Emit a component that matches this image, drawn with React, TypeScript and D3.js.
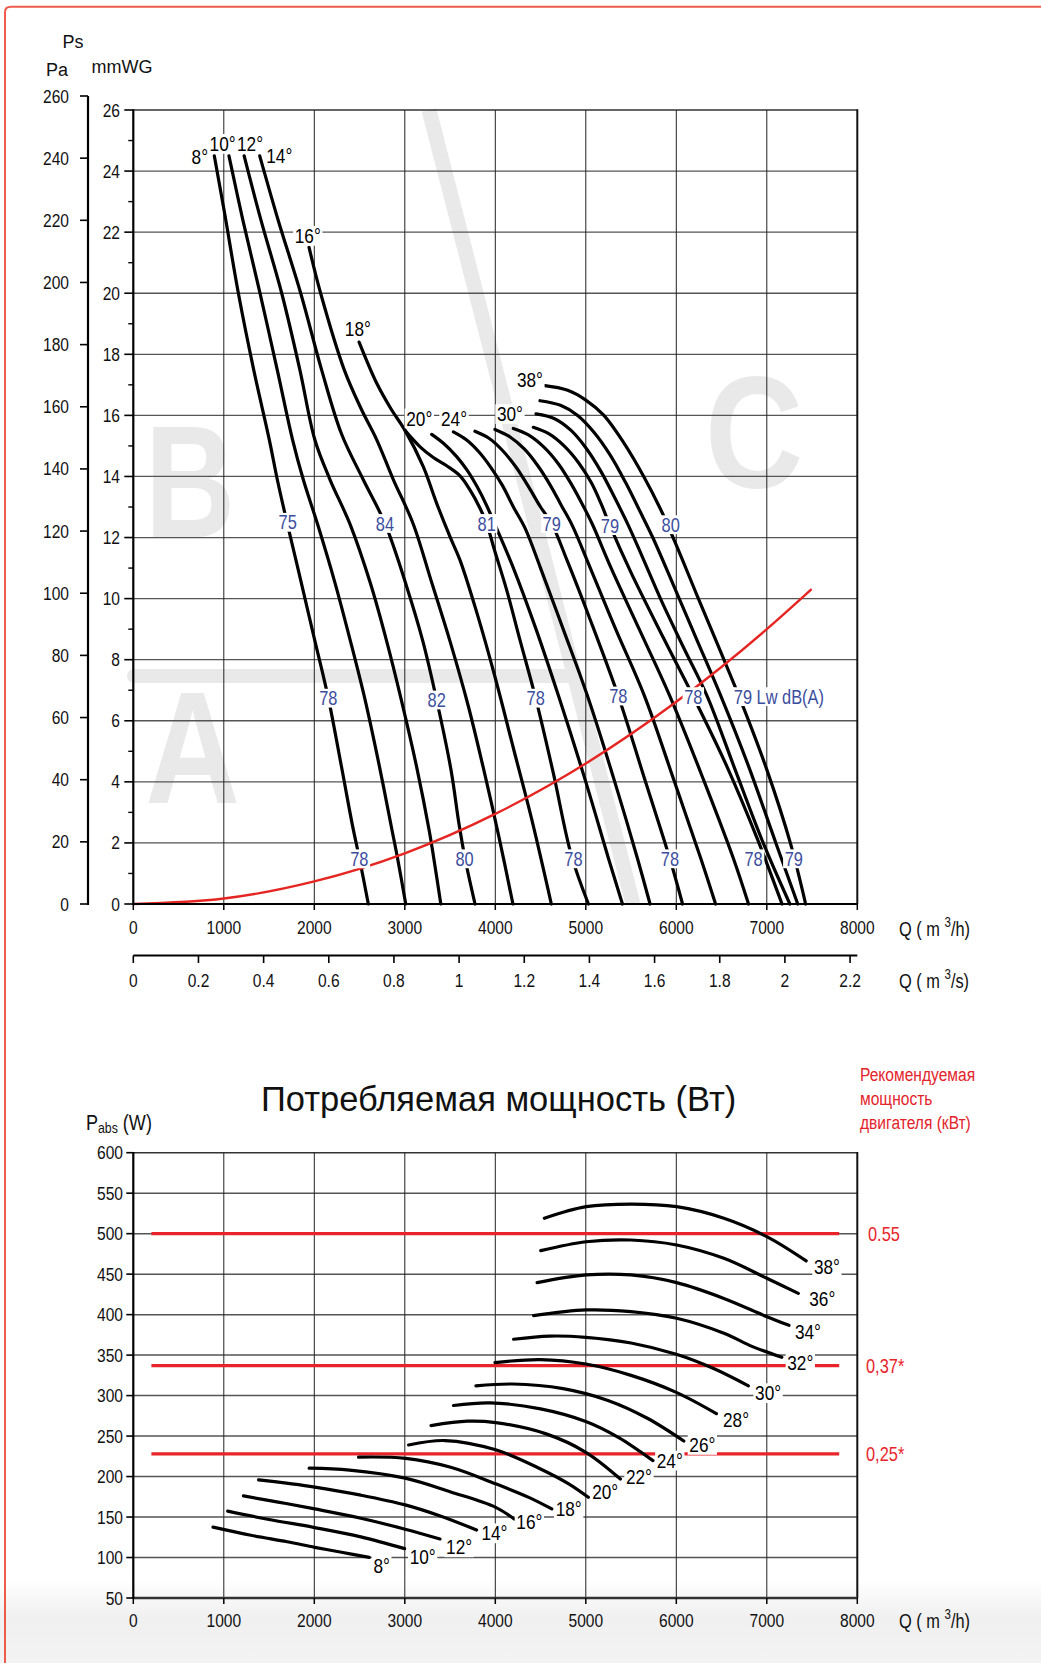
import React, { useEffect, useRef } from 'react';
import * as d3 from 'd3';

const FONT = "'Liberation Sans', Arial, Helvetica, sans-serif";
const NARROW = 0.82;

// ---------- axes / ticks ----------
const qTicks = [0, 1000, 2000, 3000, 4000, 5000, 6000, 7000, 8000];
const qsTicks = [0, 0.2, 0.4, 0.6, 0.8, 1, 1.2, 1.4, 1.6, 1.8, 2, 2.2];
const paTicks = [0, 20, 40, 60, 80, 100, 120, 140, 160, 180, 200, 220, 240, 260];
const mmMajorTicks = [0, 2, 4, 6, 8, 10, 12, 14, 16, 18, 20, 22, 24, 26];
const mmMinorTicks = [1, 3, 5, 7, 9, 11, 13, 15, 17, 19, 21, 23, 25];
const wTicks = [50, 100, 150, 200, 250, 300, 350, 400, 450, 500, 550, 600];

// ---------- top chart: fan curves, [Q m3/h, Ps mmWG] ----------
const ps08 = [[895, 24.5], [1010, 22.6], [1161, 20], [1330, 17.5], [1503, 15.2], [1591, 13.9], [1701, 12.46], [1850, 10.6], [2000, 8.7], [2155, 6.74], [2300, 4.5], [2420, 2.6], [2498, 1.5], [2597, 0]];
const ps10 = [[1057, 24.5], [1210, 22.4], [1400, 20], [1590, 17.5], [1760, 15.2], [1878, 13.9], [2040, 12.4], [2230, 10.5], [2400, 8.6], [2560, 6.7], [2720, 4.5], [2860, 2.4], [2920, 1.5], [3010, 0]];
const ps12 = [[1225, 24.5], [1410, 22.4], [1640, 20], [1840, 17.5], [2006, 15.2], [2173, 13.9], [2400, 12.4], [2620, 10.5], [2800, 8.6], [2960, 6.7], [3130, 4.5], [3270, 2.4], [3320, 1.5], [3398, 0]];
const ps14 = [[1397, 24.5], [1600, 22.4], [1850, 20], [2080, 17.5], [2300, 15.4], [2540, 13.9], [2781, 12.46], [3020, 10.4], [3200, 8.6], [3352, 6.68], [3510, 4.4], [3600, 2.6], [3665, 1.5], [3776, 0]];
const ps16 = [[1942, 21.5], [2070, 20], [2330, 17.5], [2520, 16.2], [2690, 15.2], [2873, 13.9], [3091, 12.46], [3300, 10.5], [3500, 8.6], [3700, 6.5], [3880, 4.3], [4040, 2.2], [4195, 0]];
const ps18 = [[2495, 18.4], [2690, 17.05], [2850, 16.2], [3004, 15.5], [3204, 14.32], [3352, 13.12], [3499, 12.03], [3610, 11.26], [3800, 9.5], [4000, 7.4], [4200, 5.1], [4400, 2.8], [4619, 0]];
const ps20 = [[3004, 15.5], [3169, 14.97], [3315, 14.62], [3463, 14.35], [3610, 14.02], [3720, 13.56], [3831, 12.96], [3904, 12.46], [3990, 11.6], [4126, 10.28], [4273, 8.64], [4446, 6.74], [4640, 4.3], [4840, 1.6], [5029, 0]];
const ps22 = [[3297, 15.38], [3430, 15.08], [3573, 14.65], [3690, 14.2], [3800, 13.66], [3904, 13.05], [4000, 12.4], [4200, 11.0], [4450, 9.0], [4700, 6.8], [5000, 4.0], [5250, 1.5], [5405, 0]];
const ps24 = [[3537, 15.46], [3680, 15.2], [3820, 14.8], [3950, 14.3], [4080, 13.7], [4200, 13.0], [4330, 12.3], [4500, 11.0], [4750, 9.0], [5020, 6.8], [5320, 4.0], [5570, 1.5], [5710, 0]];
const ps26 = [[3775, 15.48], [3930, 15.25], [4080, 14.85], [4230, 14.3], [4370, 13.65], [4500, 13.0], [4623, 12.46], [4800, 11.2], [5050, 9.3], [5359, 6.81], [5660, 4.0], [5929, 1.48], [6069, 0]];
const ps28 = [[3996, 15.54], [4160, 15.3], [4320, 14.9], [4470, 14.35], [4610, 13.7], [4730, 13.05], [4850, 12.4], [5050, 11.0], [5330, 9.0], [5650, 6.8], [5980, 4.0], [6270, 1.5], [6434, 0]];
const ps30 = [[4199, 15.57], [4370, 15.35], [4540, 14.95], [4700, 14.4], [4840, 13.75], [4960, 13.1], [5070, 12.45], [5280, 11.0], [5590, 9.0], [5930, 6.8], [6310, 4.0], [6630, 1.5], [6798, 0]];
const ps32 = [[4420, 15.61], [4590, 15.4], [4760, 15.0], [4920, 14.45], [5060, 13.8], [5170, 13.1], [5267, 12.39], [5500, 10.85], [5860, 8.7], [6188, 6.79], [6560, 4.5], [6900, 2.1], [7168, 0]];
const ps34 = [[4450, 16.05], [4650, 15.9], [4840, 15.5], [5010, 14.9], [5170, 14.15], [5320, 13.3], [5470, 12.4], [5620, 11.4], [5840, 9.9], [6080, 8.4], [6342, 6.8], [6650, 4.4], [6960, 2.0], [7255, 0]];
const ps36 = [[4494, 16.48], [4720, 16.33], [4910, 16.0], [5090, 15.45], [5270, 14.7], [5440, 13.8], [5600, 12.85], [5740, 12.0], [5960, 10.5], [6220, 8.7], [6494, 6.8], [6800, 4.5], [7100, 2.0], [7342, 0]];
const ps38 = [[4531, 16.98], [4800, 16.82], [5000, 16.5], [5200, 16.0], [5420, 15.1], [5640, 14.0], [5830, 12.9], [6000, 11.75], [6230, 10.1], [6470, 8.4], [6720, 6.6], [7000, 4.4], [7260, 2.0], [7429, 0]];
const topCurves = [ps08, ps10, ps12, ps14, ps16, ps18, ps20, ps22, ps24, ps26, ps28, ps30, ps32, ps34, ps36, ps38];

// system resistance curve (red) [Q, mmWG]
const systemCurve = [[0, 0], [1000, 0.18], [2000, 0.74], [3000, 1.66], [4000, 2.95], [5000, 4.6], [6000, 6.62], [7000, 9.0], [7495, 10.31]];

// labels of the top chart [text, Q, mmWG]
const topAngleLabels = [['8°', 735, 24.47], ['10°', 987, 24.89], ['12°', 1290, 24.89], ['14°', 1613, 24.49], ['16°', 1928, 21.88], ['18°', 2481, 18.84], ['20°', 3160, 15.9], ['24°', 3544, 15.9], ['30°', 4162, 16.04], ['38°', 4383, 17.16]];
const dbLabels = [
  ['75', 1706, 12.5], ['84', 2781, 12.46], ['81', 3905, 12.46], ['79', 4623, 12.46], ['79', 5267, 12.39], ['80', 5938, 12.42],
  ['78', 2155, 6.74], ['82', 3352, 6.68], ['78', 4446, 6.74], ['78', 5359, 6.81], ['78', 6188, 6.79],
  ['78', 2498, 1.48], ['80', 3660, 1.48], ['78', 4863, 1.48], ['78', 5929, 1.48], ['78', 6854, 1.48], ['79', 7299, 1.48],
];
const lwLabel = ['79 Lw dB(A)', 6740, 6.79];

// ---------- bottom chart: absorbed power, [Q m3/h, W] ----------
const pw08 = [[881, 137.5], [1300, 127.5], [1700, 119.5], [2005, 112.6], [2300, 106.5], [2607, 100.2]];
const pw10 = [[1043, 157.3], [1500, 147], [2005, 137], [2514, 125.5], [2998, 111]];
const pw12 = [[1217, 176.1], [1600, 168.5], [2005, 160], [2514, 148.5], [3004, 135], [3389, 122.9]];
const pw14 = [[1384, 195.8], [2005, 187], [2514, 177], [3004, 165], [3400, 151], [3793, 134]];
const pw16 = [[1943, 210.3], [2390, 208], [3004, 198], [3507, 181], [4004, 162], [4209, 147.6]];
const pw18 = [[2489, 224], [3010, 222.5], [3507, 211.5], [4004, 191], [4376, 174], [4624, 160]];
const pw20 = [[3042, 239], [3445, 244.5], [4004, 233], [4500, 209.4], [4811, 191], [5028, 174.4]];
const pw22 = [[3290, 263], [3693, 268.4], [4004, 266.7], [4562, 252.7], [5000, 230], [5382, 197]];
const pw24 = [[3538, 287.8], [3942, 291], [4500, 283.6], [5000, 268], [5369, 247.8], [5742, 219.7]];
const pw26 = [[3786, 312], [4190, 314.3], [4749, 308.6], [5245, 294], [5680, 272], [6083, 243.9]];
const pw28 = [[3996, 340.8], [4500, 344.5], [5000, 339], [5500, 325], [6000, 304], [6443, 277.7]];
const pw30 = [[4202, 369.6], [4600, 373.5], [5000, 372], [5500, 365], [6000, 351], [6400, 334], [6797, 312]];
const pw32 = [[4423, 398.8], [5004, 405.8], [5498, 403.7], [6004, 395.5], [6526, 377], [6842, 360.5], [7166, 347.3]];
const pw34 = [[4462, 439.5], [5004, 449], [5498, 449], [6004, 439.5], [6526, 420], [7000, 397.5], [7245, 386.8]];
const pw36 = [[4502, 479], [5004, 490], [5498, 492.2], [6004, 486], [6526, 469.5], [7000, 444.9], [7348, 426.3]];
const pw38 = [[4542, 519], [5004, 533.3], [5498, 536.6], [6004, 533.3], [6526, 519], [7000, 496.3], [7435, 466.3]];
const powerCurves = [pw08, pw10, pw12, pw14, pw16, pw18, pw20, pw22, pw24, pw26, pw28, pw30, pw32, pw34, pw36, pw38];

const powerAngleLabels = [['8°', 2744, 90], ['10°', 3197, 100.2], ['12°', 3600, 112.6], ['14°', 3991, 129.9], ['16°', 4376, 143.5], ['18°', 4811, 160], ['20°', 5214, 180.6], ['22°', 5587, 199.1], ['24°', 5928, 219.7], ['26°', 6288, 239.1], ['28°', 6660, 270], ['30°', 7014, 303], ['32°', 7370, 340], ['34°', 7455, 379], ['36°', 7613, 420], ['38°', 7664, 459]];

const motorPowerW = [500, 337, 228];
const motorLabels = ['0.55', '0,37*', '0,25*'];
const motorLineQ = [200, 7800];
const motorTitle = ['Рекомендуемая', 'мощность', 'двигателя (кВт)'];

function addLabel(parent: any, x: number, y: number, str: string, o: any = {}) {
  const size = o.size ?? 19;
  const sx = o.sx ?? NARROW;
  const g = parent.append('g').attr('transform', `translate(${x},${y}) scale(${sx},1)`);
  const t = g.append('text')
    .attr('x', 0).attr('y', 0)
    .attr('font-family', FONT)
    .attr('font-size', size)
    .attr('font-weight', o.weight ?? 'normal')
    .attr('text-anchor', o.anchor ?? 'middle')
    .attr('dominant-baseline', 'central')
    .attr('fill', o.fill ?? '#111')
    .text(str);
  if (o.box) {
    const bb = (t.node() as any).getBBox();
    const pad = o.pad ?? 2;
    g.insert('rect', 'text')
      .attr('x', bb.x - pad).attr('y', -size * 0.47)
      .attr('width', bb.width + 2 * pad).attr('height', size * 0.94)
      .attr('fill', '#fff');
  }
  return t;
}

function draw(svg: any) {
  const x = d3.scaleLinear().domain([0, 8000]).range([133.3, 857.3]);
  const yMm = d3.scaleLinear().domain([0, 26]).range([904, 110]);
  const yPa = d3.scaleLinear().domain([0, 260]).range([904, 96]);
  const xQs = d3.scaleLinear().domain([0, 2.2]).range([x(0), x(7920)]);
  const yW = d3.scaleLinear().domain([50, 600]).range([1598, 1152.7]);

  // background fade at bottom
  const defs = svg.append('defs');
  const lg = defs.append('linearGradient').attr('id', 'fade').attr('x1', 0).attr('y1', 0).attr('x2', 0).attr('y2', 1);
  lg.append('stop').attr('offset', '0%').attr('stop-color', '#ffffff');
  lg.append('stop').attr('offset', '45%').attr('stop-color', '#f0f0f0');
  lg.append('stop').attr('offset', '100%').attr('stop-color', '#f3f3f3');
  svg.append('rect').attr('x', 0).attr('y', 1580).attr('width', 1041).attr('height', 83).attr('fill', 'url(#fade)');

  // red frame
  svg.append('path').attr('d', 'M5,1663 V12 Q5,6.7 11,6.7 H1041').attr('fill', 'none').attr('stroke', '#ef5b4b').attr('stroke-width', 2);

  // ---------- TOP CHART ----------
  const top = svg.append('g');
  const wm = '#e8e9e8';
  top.append('line').attr('x1', 429).attr('y1', yMm(26)).attr('x2', 633).attr('y2', yMm(0)).attr('stroke', wm).attr('stroke-width', 15);
  top.append('line').attr('x1', 134).attr('y1', 676).attr('x2', 568).attr('y2', 676).attr('stroke', wm).attr('stroke-width', 14).attr('stroke-linecap', 'round');
  const wmLetter = (ch: string, cx: number, by: number, sx: number) =>
    top.append('text').attr('transform', `translate(${cx},${by}) scale(${sx},1)`).attr('text-anchor', 'middle')
      .attr('font-family', FONT).attr('font-weight', 'bold').attr('font-size', 160).attr('fill', wm).text(ch);
  wmLetter('B', 190, 537, 0.78);
  wmLetter('A', 192.5, 803, 0.82);
  wmLetter('C', 754, 487, 0.85);

  // grid
  mmMajorTicks.filter(v => v > 0).forEach(v => {
    top.append('line').attr('x1', x(0)).attr('x2', x(8000)).attr('y1', yMm(v)).attr('y2', yMm(v))
      .attr('stroke', v === 26 ? '#333' : '#555').attr('stroke-width', v === 26 ? 1.6 : 1.3);
  });
  qTicks.filter(v => v > 0 && v < 8000).forEach(v => {
    top.append('line').attr('x1', x(v)).attr('x2', x(v)).attr('y1', yMm(26)).attr('y2', yMm(0)).attr('stroke', '#222').attr('stroke-width', 1);
  });
  top.append('line').attr('x1', x(8000)).attr('x2', x(8000)).attr('y1', yMm(26) - 0.8).attr('y2', yMm(0)).attr('stroke', '#111').attr('stroke-width', 2);

  // fan curves
  const line = d3.line().x((d: any) => x(d[0])).y((d: any) => yMm(d[1])).curve(d3.curveCatmullRom.alpha(0.5));
  topCurves.forEach(c => {
    top.append('path').attr('d', line(c as any)).attr('fill', 'none').attr('stroke', '#000').attr('stroke-width', 3.2).attr('stroke-linecap', 'round');
  });
  // system curve
  const sline = d3.line().x((d: any) => x(d[0])).y((d: any) => yMm(d[1])).curve(d3.curveMonotoneX);
  top.append('path').attr('d', sline(systemCurve as any)).attr('fill', 'none').attr('stroke', '#e52521').attr('stroke-width', 2.4);

  // labels
  const blue = '#3b4e9e';
  dbLabels.forEach(([t, q, m]: any) => addLabel(top, x(q), yMm(m), t, { size: 20, fill: blue, box: true }));
  {
    const [t, q, m]: any = lwLabel;
    addLabel(top, x(q) - 9.5, yMm(m), t, { size: 20, fill: blue, box: true, anchor: 'start' });
  }
  topAngleLabels.forEach(([t, q, m]: any) => addLabel(top, x(q), yMm(m), t, { size: 21, fill: '#000', box: true }));

  // axes
  top.append('line').attr('x1', x(0)).attr('x2', x(8000)).attr('y1', yMm(0)).attr('y2', yMm(0)).attr('stroke', '#000').attr('stroke-width', 2.2);
  qTicks.forEach(v => {
    top.append('line').attr('x1', x(v)).attr('x2', x(v)).attr('y1', yMm(0)).attr('y2', yMm(0) + 6).attr('stroke', '#000').attr('stroke-width', 1.5);
    addLabel(top, x(v), 927, String(v), { size: 19 });
  });
  // mmWG axis
  top.append('line').attr('x1', x(0)).attr('x2', x(0)).attr('y1', yMm(26) - 0.8).attr('y2', yMm(0) + 1).attr('stroke', '#000').attr('stroke-width', 2.2);
  mmMajorTicks.forEach(v => {
    top.append('line').attr('x1', x(0) - 9).attr('x2', x(0)).attr('y1', yMm(v)).attr('y2', yMm(v)).attr('stroke', '#000').attr('stroke-width', 1.6);
    addLabel(top, 120, yMm(v), String(v), { size: 19, anchor: 'end' });
  });
  mmMinorTicks.forEach(v => {
    top.append('line').attr('x1', x(0) - 5).attr('x2', x(0)).attr('y1', yMm(v)).attr('y2', yMm(v)).attr('stroke', '#000').attr('stroke-width', 1.4);
  });
  // Pa axis
  top.append('line').attr('x1', 88).attr('x2', 88).attr('y1', yPa(260)).attr('y2', yPa(0) + 1).attr('stroke', '#000').attr('stroke-width', 2.2);
  paTicks.forEach(v => {
    top.append('line').attr('x1', 80).attr('x2', 88).attr('y1', yPa(v)).attr('y2', yPa(v)).attr('stroke', '#000').attr('stroke-width', 1.6);
    addLabel(top, 69, yPa(v), String(v), { size: 19, anchor: 'end' });
  });
  addLabel(top, 73, 42, 'Ps', { size: 18, sx: 1 });
  addLabel(top, 57, 70, 'Pa', { size: 18, sx: 1 });
  addLabel(top, 122, 67, 'mmWG', { size: 18, sx: 1 });

  // m3/s axis
  top.append('line').attr('x1', x(0)).attr('x2', x(8000)).attr('y1', 955.5).attr('y2', 955.5).attr('stroke', '#000').attr('stroke-width', 2);
  qsTicks.forEach(v => {
    top.append('line').attr('x1', xQs(v)).attr('x2', xQs(v)).attr('y1', 955.5).attr('y2', 963).attr('stroke', '#000').attr('stroke-width', 1.6);
    addLabel(top, xQs(v), 980, String(v), { size: 19 });
  });

  const qLabel = (y: number, unit: string) => {
    const g = svg.append('g').attr('transform', `translate(899,${y}) scale(${NARROW},1)`);
    const t = g.append('text').attr('font-family', FONT).attr('font-size', 20).attr('dominant-baseline', 'central').attr('fill', '#111');
    t.append('tspan').text('Q  ( m ');
    t.append('tspan').attr('font-size', 14).attr('dy', -6).text('3');
    t.append('tspan').attr('dy', 6).text(unit);
  };
  qLabel(928, '/h)');
  qLabel(980, '/s)');

  // ---------- BOTTOM CHART ----------
  const bot = svg.append('g');
  addLabel(bot, 261, 1099, 'Потребляемая мощность (Вт)', { size: 34.5, sx: 1, anchor: 'start', fill: '#111' });
  motorTitle.forEach((t, i) => addLabel(bot, 860, [1074, 1098, 1122][i], t, { size: 19, anchor: 'start', fill: '#e3242b' }));
  {
    const g = bot.append('g').attr('transform', `translate(86,1122) scale(${NARROW},1)`);
    const t = g.append('text').attr('font-family', FONT).attr('font-size', 22).attr('dominant-baseline', 'central').attr('fill', '#111');
    t.append('tspan').text('P');
    t.append('tspan').attr('font-size', 15).attr('dy', 6).text('abs');
    t.append('tspan').attr('dy', -6).text(' (W)');
  }

  // grid
  wTicks.filter(v => v > 50).forEach(v => {
    bot.append('line').attr('x1', x(0)).attr('x2', x(8000)).attr('y1', yW(v)).attr('y2', yW(v))
      .attr('stroke', v === 600 ? '#333' : '#555').attr('stroke-width', v === 600 ? 1.6 : 1.5);
  });
  qTicks.filter(v => v > 0 && v < 8000).forEach(v => {
    bot.append('line').attr('x1', x(v)).attr('x2', x(v)).attr('y1', yW(600)).attr('y2', yW(50)).attr('stroke', '#222').attr('stroke-width', 1);
  });
  bot.append('line').attr('x1', x(8000)).attr('x2', x(8000)).attr('y1', yW(600) - 0.8).attr('y2', yW(50)).attr('stroke', '#111').attr('stroke-width', 2);

  // motor lines
  motorPowerW.forEach((w, i) => {
    bot.append('line').attr('x1', x(motorLineQ[0])).attr('x2', x(motorLineQ[1])).attr('y1', yW(w)).attr('y2', yW(w))
      .attr('stroke', '#e8242a').attr('stroke-width', 3.2);
    addLabel(bot, i === 0 ? 868 : 866, yW(w), motorLabels[i], { size: 20, anchor: 'start', fill: '#e8242a' });
  });

  // power curves
  const pline = d3.line().x((d: any) => x(d[0])).y((d: any) => yW(d[1])).curve(d3.curveCatmullRom.alpha(0.5));
  powerCurves.forEach(c => {
    bot.append('path').attr('d', pline(c as any)).attr('fill', 'none').attr('stroke', '#000').attr('stroke-width', 3.2).attr('stroke-linecap', 'round');
  });
  powerAngleLabels.forEach(([t, q, w]: any) => addLabel(bot, x(q), yW(w), t, { size: 21, fill: '#000', box: true }));

  // axes
  bot.append('line').attr('x1', x(0)).attr('x2', x(8000)).attr('y1', yW(50)).attr('y2', yW(50)).attr('stroke', '#333').attr('stroke-width', 2.6);
  bot.append('line').attr('x1', x(0)).attr('x2', x(0)).attr('y1', yW(600) - 0.8).attr('y2', yW(50) + 1).attr('stroke', '#000').attr('stroke-width', 2.2);
  wTicks.forEach(v => {
    bot.append('line').attr('x1', x(0) - 7).attr('x2', x(0)).attr('y1', yW(v)).attr('y2', yW(v)).attr('stroke', '#000').attr('stroke-width', 1.6);
    addLabel(bot, 123, yW(v), String(v), { size: 19, anchor: 'end' });
  });
  qTicks.forEach(v => {
    bot.append('line').attr('x1', x(v)).attr('x2', x(v)).attr('y1', yW(50)).attr('y2', yW(50) + 6).attr('stroke', '#000').attr('stroke-width', 1.5);
    addLabel(bot, x(v), 1620, String(v), { size: 19 });
  });
  qLabel(1620, '/h)');
}

export default function App() {
  const ref = useRef<SVGSVGElement>(null);
  useEffect(() => {
    const svg = d3.select(ref.current);
    svg.selectAll('*').remove();
    draw(svg);
  }, []);
  return (
    <svg ref={ref} width={1041} height={1663}
      style={{ position: 'absolute', left: 0, top: 0, display: 'block', background: '#fff' }} />
  );
}
